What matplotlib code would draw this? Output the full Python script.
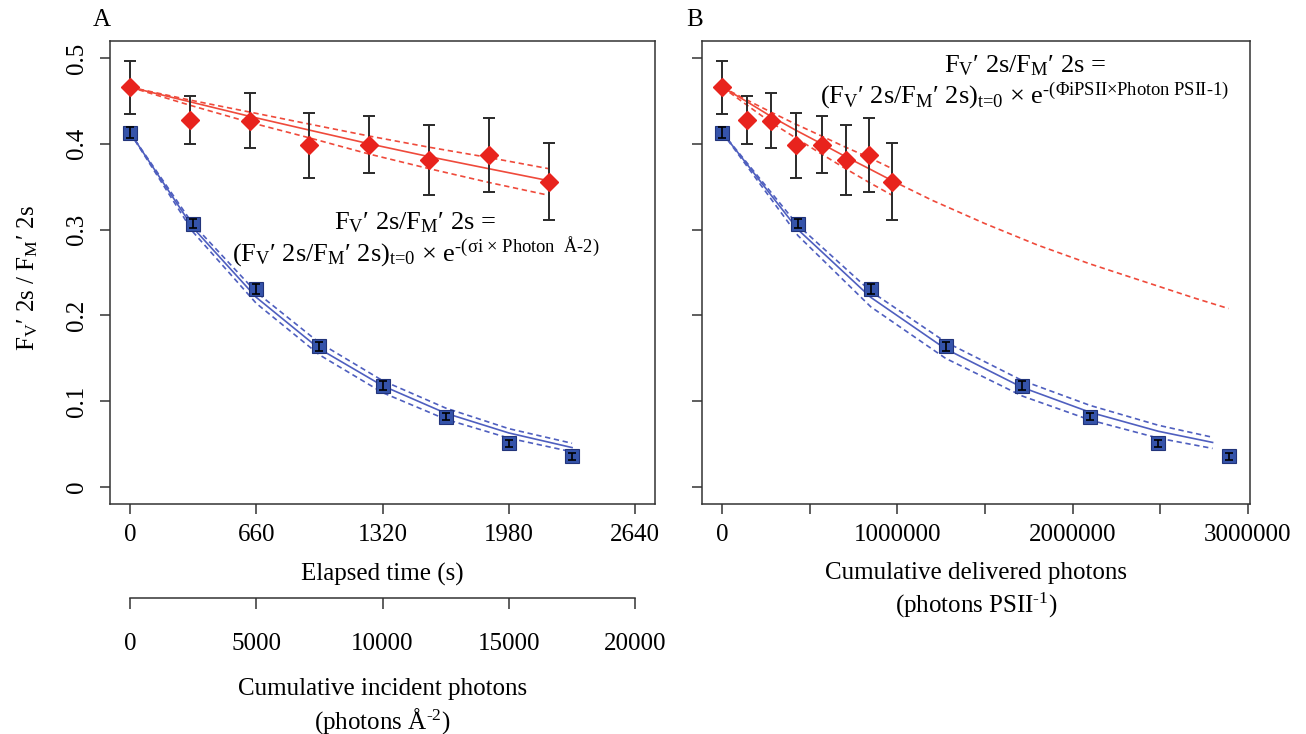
"""Photo-damage of PSII variable fluorescence, two x scalings (panels A and B)."""
import matplotlib

matplotlib.use("Agg")
import matplotlib.pyplot as plt
from matplotlib.ticker import FixedLocator, FixedFormatter

plt.rcParams.update({
    "font.family": ["Liberation Serif", "DejaVu Serif"],
    "mathtext.fontset": "custom",
    "mathtext.rm": "Liberation Serif",
    "mathtext.it": "Liberation Serif:italic",
    "mathtext.bf": "Liberation Serif:bold",
    "font.size": 18,
    "axes.linewidth": 1.1,
    "axes.edgecolor": "#333333",
    "xtick.color": "#333333",
    "ytick.color": "#333333",
    "xtick.labelcolor": "black",
    "ytick.labelcolor": "black",
})

# ---- data ----
# red diamonds (one sample), panel A x = elapsed time (s)
t_red = [0, 312, 625, 936, 1250, 1563, 1874, 2188]
red_y = [0.466, 0.428, 0.427, 0.398, 0.399, 0.381, 0.387, 0.356]
red_err = [0.031, 0.028, 0.032, 0.038, 0.033, 0.041, 0.043, 0.045]
red_fit = [0.466, 0.449, 0.432, 0.416, 0.400, 0.385, 0.371, 0.357]
red_fit_hi = [0.466, 0.451, 0.437, 0.423, 0.409, 0.396, 0.384, 0.371]
red_fit_lo = [0.466, 0.445, 0.425, 0.407, 0.388, 0.371, 0.355, 0.340]

# blue squares (other sample)
t_blue = [0, 330, 660, 990, 1320, 1650, 1980, 2310]
blue_y = [0.413, 0.307, 0.231, 0.164, 0.118, 0.082, 0.051, 0.036]
blue_err = [0.006, 0.005, 0.006, 0.005, 0.005, 0.004, 0.004, 0.004]
blue_fit = [0.413, 0.302, 0.221, 0.161, 0.118, 0.086, 0.063, 0.046]
blue_fit_hi = [0.413, 0.306, 0.227, 0.168, 0.124, 0.092, 0.068, 0.051]
blue_fit_lo = [0.413, 0.297, 0.214, 0.154, 0.110, 0.079, 0.057, 0.041]

# panel B x = cumulative delivered photons per PSII
p_red = [0, 141e3, 277e3, 418e3, 567e3, 704e3, 838e3, 970e3]
p_red_ext = [970e3, 1200e3, 1500e3, 1800e3, 2100e3, 2400e3, 2700e3, 2891e3]
red_ext = [0.357, 0.334, 0.307, 0.282, 0.260, 0.240, 0.220, 0.208]
p_blue = [0, 432e3, 848e3, 1275e3, 1714e3, 2102e3, 2490e3, 2891e3]
p_blue_fit = [0, 432e3, 848e3, 1275e3, 1714e3, 2102e3, 2490e3, 2800e3]
blue_fit_b = [0.413, 0.300, 0.221, 0.161, 0.116, 0.087, 0.065, 0.052]
blue_fit_b_hi = [0.413, 0.305, 0.228, 0.169, 0.124, 0.095, 0.072, 0.058]
blue_fit_b_lo = [0.413, 0.293, 0.210, 0.150, 0.106, 0.078, 0.057, 0.045]

y_ticks = [0, 0.1, 0.2, 0.3, 0.4, 0.5]
y_ticklabels = ["0", "0.1", "0.2", "0.3", "0.4", "0.5"]
time_ticks = [0, 660, 1320, 1980, 2640]
incident_ticks = [0, 5000, 10000, 15000, 20000]
delivered_ticks = [0, 500000, 1000000, 1500000, 2000000, 2500000, 3000000]
delivered_labels = ["0", "", "1000000", "", "2000000", "", "3000000"]

RED = "#e8231d"
RED_FIT = "#ef4a3b"
BLUE = "#3553aa"
BLUE_EDGE = "#22347a"
BLUE_FIT = "#4f5fbf"
ERR = "#2a2a2a"
DASH = (0, (3.2, 2.2))

EQ_TOP = "F$_\\text{V}$′ 2s/F$_\\text{M}$′ 2s ="
EQ_A = "(F$_\\text{V}$′ 2s/F$_\\text{M}$′ 2s)$_\\text{t=0}$ × e$^\\text{-(σi × Photon  Å-2)}$"
EQ_B = "(F$_\\text{V}$′ 2s/F$_\\text{M}$′ 2s)$_\\text{t=0}$ × e$^\\text{-(ΦiPSII×Photon PSII-1)}$"
YLABEL = "F$_\\text{V}$′ 2s / F$_\\text{M}$′ 2s"

W, H = 1306, 734
fig = plt.figure(figsize=(W / 100, H / 100), dpi=100)
bottom, height = 1 - 504.2 / H, (504.2 - 40.8) / H
ax_a = fig.add_axes([109.8 / W, bottom, 545.6 / W, height])
ax_b = fig.add_axes([702.0 / W, bottom, 548.4 / W, height])


def style(ax):
    ax.set_ylim(-0.02, 0.52)
    ax.yaxis.set_major_locator(FixedLocator(y_ticks))
    ax.tick_params(direction="out", length=7.5, width=1.1)
    ax.tick_params(axis="x", pad=7)
    ax.tick_params(axis="y", pad=8, labelrotation=90)


def draw(ax, xr, xb, xbf, bfit, bhi, blo):
    # fits first, then markers, red bars behind diamonds, blue bars on top
    ax.plot(xr, red_fit, color=RED_FIT, lw=1.2, zorder=2)
    ax.plot(xr, red_fit_hi, color=RED_FIT, lw=1.2, ls=DASH, zorder=2)
    ax.plot(xr, red_fit_lo, color=RED_FIT, lw=1.2, ls=DASH, zorder=2)
    ax.plot(xbf, bfit, color=BLUE_FIT, lw=1.2, zorder=2)
    ax.plot(xbf, bhi, color=BLUE_FIT, lw=1.2, ls=DASH, zorder=2)
    ax.plot(xbf, blo, color=BLUE_FIT, lw=1.2, ls=DASH, zorder=2)
    ax.errorbar(xr, red_y, yerr=red_err, fmt="none", ecolor=ERR,
                elinewidth=1.4, capsize=4.3, capthick=1.4, zorder=3)
    ax.plot(xr, red_y, ls="none", marker="D", ms=8.8, color=RED,
            mec=RED, zorder=4)
    ax.plot(xb, blue_y, ls="none", marker="s", ms=9.6, color=BLUE,
            mec=BLUE_EDGE, mew=0.8, zorder=4)
    ax.errorbar(xb, blue_y, yerr=blue_err, fmt="none", ecolor="black",
                elinewidth=1.2, capsize=2.6, capthick=1.2, zorder=5)


# ---- panel A ----
style(ax_a)
draw(ax_a, t_red, t_blue, t_blue, blue_fit, blue_fit_hi, blue_fit_lo)
ax_a.set_xlim(-105.6, 2745.6)
ax_a.xaxis.set_major_locator(FixedLocator(time_ticks))
ax_a.xaxis.set_major_formatter(FixedFormatter([str(v) for v in time_ticks]))
ax_a.yaxis.set_major_formatter(FixedFormatter(y_ticklabels))
for lab in ax_a.get_yticklabels():
    lab.set_va("center")
ax_a.text(1490, 0.308, EQ_TOP, ha="center", va="center", fontsize=19)
ax_a.text(1494, 0.273, EQ_A, ha="center", va="center", fontsize=19)

# second scale under panel A: cumulative incident photons
sec = fig.add_axes([109.8 / W, 1 - 598 / H, 545.6 / W, 0.0005])
sec.patch.set_visible(False)
sec.set_xlim(-800, 20800)
for side in ("top", "left", "right"):
    sec.spines[side].set_visible(False)
sec.spines["bottom"].set_bounds(0, 20000)
sec.set_yticks([])
sec.xaxis.set_major_locator(FixedLocator(incident_ticks))
sec.xaxis.set_major_formatter(FixedFormatter([str(v) for v in incident_ticks]))
sec.tick_params(direction="out", length=8, width=1.1, pad=17)

# ---- panel B ----
style(ax_b)
draw(ax_b, p_red, p_blue, p_blue_fit, blue_fit_b, blue_fit_b_hi, blue_fit_b_lo)
ax_b.plot(p_red_ext, red_ext, color=RED_FIT, lw=1.2, ls=DASH, zorder=2)
ax_b.set_xlim(-116000, 3016000)
ax_b.xaxis.set_major_locator(FixedLocator(delivered_ticks))
ax_b.xaxis.set_major_formatter(FixedFormatter(delivered_labels))
ax_b.set_yticklabels([])
ax_b.text(1.727e6, 0.491, EQ_TOP, ha="center", va="center", fontsize=19)
ax_b.text(1.727e6, 0.455, EQ_B, ha="center", va="center", fontsize=19)

# ---- labels ----
xa = (109.8 + 545.6 / 2) / W
xb = (702.0 + 548.4 / 2) / W
fig.text(xa, 1 - 574 / H, "Elapsed time (s)", ha="center", va="center")
fig.text(xa, 1 - 689 / H, "Cumulative incident photons", ha="center", va="center")
fig.text(xa, 1 - 721 / H, "(photons Å$^\\text{-2}$)", ha="center", va="center")
fig.text(xb, 1 - 573 / H, "Cumulative delivered photons", ha="center", va="center")
fig.text(xb, 1 - 605 / H, "(photons PSII$^\\text{-1}$)", ha="center", va="center")
fig.text(28 / W, 1 - 278 / H, YLABEL, rotation=90, ha="center", va="center")
fig.text(102 / W, 1 - 20 / H, "A", ha="center", va="center")
fig.text(695 / W, 1 - 20 / H, "B", ha="center", va="center")

fig.savefig("out.png", dpi=100)
